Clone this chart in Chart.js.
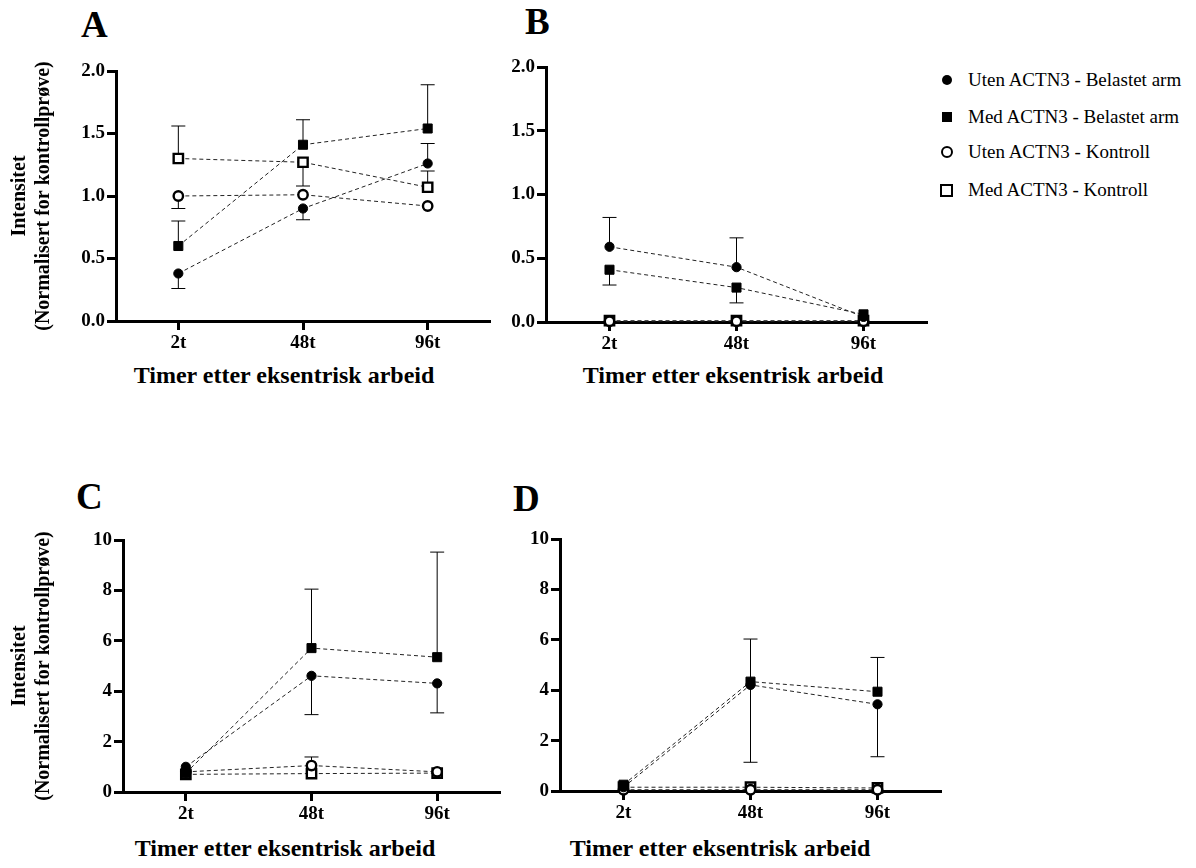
<!DOCTYPE html>
<html>
<head>
<meta charset="utf-8">
<script src="https://cdn.jsdelivr.net/npm/chart.js@4.4.0/dist/chart.umd.min.js"></script>
<style>
body{margin:0;background:#fff;width:1196px;height:868px;position:relative;overflow:hidden;font-family:"Liberation Serif","Times New Roman",serif;color:#000;}
canvas{position:absolute;}
.letter{position:absolute;font-weight:bold;font-size:37px;line-height:1;}
.xtitle{position:absolute;font-weight:bold;font-size:24px;line-height:1;white-space:nowrap;transform:translateX(-50%);}
.lg{position:absolute;font-size:19px;line-height:1;white-space:nowrap;}
.mk{position:absolute;box-sizing:border-box;background:#000;}
</style>
</head>
<body>
<div class="letter" style="left:81px;top:6px">A</div>
<div class="letter" style="left:525px;top:3px">B</div>
<div class="letter" style="left:76px;top:478px">C</div>
<div class="letter" style="left:513px;top:480px">D</div>

<div class="xtitle" style="left:284px;top:363px">Timer etter eksentrisk arbeid</div>
<div class="xtitle" style="left:733px;top:363px">Timer etter eksentrisk arbeid</div>
<div class="xtitle" style="left:285px;top:836px">Timer etter eksentrisk arbeid</div>
<div class="xtitle" style="left:720px;top:836px">Timer etter eksentrisk arbeid</div>

<div id="legend"></div>

<canvas id="chartA"></canvas>
<canvas id="chartB"></canvas>
<canvas id="chartC"></canvas>
<canvas id="chartD"></canvas>

<script>
// categories and series names
var timeLabels = ['2t', '48t', '96t'];
var seriesNames = ['Uten ACTN3 - Belastet arm', 'Med ACTN3 - Belastet arm', 'Uten ACTN3 - Kontroll', 'Med ACTN3 - Kontroll'];

// panel A (values, then signed error: + = bar up, - = bar down)
var aUtenBel = [0.38, 0.90, 1.26];
var aMedBel = [0.60, 1.41, 1.54];
var aUtenKon = [1.00, 1.01, 0.92];
var aMedKon = [1.30, 1.27, 1.07];
var aUtenBelErr = [-0.12, -0.09, 0.16];
var aMedBelErr = [0.20, 0.20, 0.35];
var aUtenKonErr = [-0.10, 0, 0];
var aMedKonErr = [0.26, -0.19, 0.13];

// panel B
var bUtenBel = [0.59, 0.43, 0.04];
var bMedBel = [0.41, 0.27, 0.06];
var bUtenKon = [0.005, 0.005, 0.005];
var bMedKon = [0.01, 0.01, 0.01];
var bUtenBelErr = [0.23, 0.23, 0];
var bMedBelErr = [-0.12, -0.12, 0];
var bUtenKonErr = [0, 0, 0];
var bMedKonErr = [0, 0, 0];

// panel C
var cUtenBel = [1.00, 4.61, 4.31];
var cMedBel = [0.75, 5.71, 5.35];
var cUtenKon = [0.80, 1.05, 0.80];
var cMedKon = [0.70, 0.73, 0.75];
var cUtenBelErr = [0, -1.54, -1.17];
var cMedBelErr = [0, 2.34, 4.17];
var cUtenKonErr = [0, 0.34, 0];
var cMedKonErr = [0, 0, 0];

// panel D
var dUtenBel = [0.15, 4.21, 3.44];
var dMedBel = [0.25, 4.34, 3.94];
var dUtenKon = [0.05, 0.05, 0.05];
var dMedKon = [0.15, 0.15, 0.12];
var dUtenBelErr = [0, -3.07, -2.08];
var dMedBelErr = [0, 1.69, 1.36];
var dUtenKonErr = [0, 0, 0];
var dMedKonErr = [0, 0, 0];

var serifFont = '"Liberation Serif", "Times New Roman", serif';

// one-sided error bars with caps, drawn under the markers
var errorBars = {
    id: 'errorBars',
    beforeDatasetsDraw: function(chart) {
        var ctx = chart.ctx;
        var yScale = chart.scales.y;
        ctx.save();
        ctx.strokeStyle = '#000';
        ctx.lineWidth = 1;
        chart.data.datasets.forEach(function(ds, i) {
            var meta = chart.getDatasetMeta(i);
            meta.data.forEach(function(pt, j) {
                var e = ds.errors[j];
                if (!e) return;
                var yEnd = yScale.getPixelForValue(ds.data[j] + e);
                ctx.beginPath();
                ctx.moveTo(pt.x, pt.y);
                ctx.lineTo(pt.x, yEnd);
                ctx.moveTo(pt.x - 7, yEnd);
                ctx.lineTo(pt.x + 7, yEnd);
                ctx.stroke();
            });
        });
        ctx.restore();
    }
};

function makeDatasets(series, errs) {
    return series.map(function(vals, i) {
        var isCircle = i % 2 === 0;
        var filled = i < 2;
        return {
            label: seriesNames[i],
            data: vals,
            errors: errs[i],
            borderColor: '#222',
            borderWidth: 1,
            borderDash: [4, 3],
            pointStyle: isCircle ? 'circle' : 'rect',
            pointRadius: isCircle ? (filled ? 4.6 : 4.7) : (filled ? 6.4 : 6.6),
            pointBackgroundColor: filled ? '#000' : '#fff',
            pointBorderColor: '#000',
            pointBorderWidth: filled ? 1 : 2.4,
            tension: 0,
            clip: false
        };
    });
}

// pos: canvas box and chart area in page coordinates
function makeChart(id, pos, yMax, yStep, digits, series, errs, yTitle) {
    var cv = document.getElementById(id);
    cv.style.left = pos.x + 'px';
    cv.style.top = pos.y + 'px';
    cv.width = pos.w;
    cv.height = pos.h;
    cv.style.width = pos.w + 'px';
    cv.style.height = pos.h + 'px';
    var yWidth = pos.left - pos.x;
    var xHeight = pos.y + pos.h - pos.bottom;

    return new Chart(cv.getContext('2d'), {
        type: 'line',
        data: {
            labels: timeLabels,
            datasets: makeDatasets(series, errs)
        },
        options: {
            responsive: false,
            animation: false,
            layout: {
                padding: { top: pos.top - pos.y, right: pos.x + pos.w - pos.right, left: 0, bottom: 0 }
            },
            plugins: {
                legend: { display: false },
                tooltip: { enabled: false }
            },
            scales: {
                x: {
                    type: 'category',
                    offset: true,
                    afterFit: function(scale) { scale.height = xHeight; },
                    border: { display: true, width: 3, color: '#000' },
                    grid: { offset: false, drawOnChartArea: false, tickLength: 9, tickWidth: 3, tickColor: '#000', color: '#000' },
                    ticks: { color: '#000', padding: 2, maxRotation: 0, font: { family: serifFont, size: 19, weight: 'bold' } }
                },
                y: {
                    min: 0,
                    max: yMax,
                    afterFit: function(scale) { scale.width = yWidth; },
                    border: { display: true, width: 3, color: '#000' },
                    grid: { drawOnChartArea: false, tickLength: 9, tickWidth: 3, tickColor: '#000', color: '#000' },
                    ticks: {
                        stepSize: yStep,
                        color: '#000',
                        padding: 2,
                        font: { family: serifFont, size: 19, weight: 'bold' },
                        callback: function(v) { return v.toFixed(digits); }
                    },
                    title: {
                        display: yTitle,
                        text: ['Intensitet', '(Normalisert for kontrollprøve)'],
                        color: '#000',
                        padding: { top: 8, bottom: 0 },
                        font: { family: serifFont, size: 20, weight: 'bold', lineHeight: 1.2 }
                    }
                }
            }
        },
        plugins: [errorBars]
    });
}

makeChart('chartA', { x: 0, y: 40, w: 500, h: 320, left: 116, top: 71, right: 490, bottom: 321 },
    2, 0.5, 1,
    [aUtenBel, aMedBel, aUtenKon, aMedKon],
    [aUtenBelErr, aMedBelErr, aUtenKonErr, aMedKonErr], true);

makeChart('chartB', { x: 470, y: 40, w: 470, h: 320, left: 546, top: 67, right: 927, bottom: 322 },
    2, 0.5, 1,
    [bUtenBel, bMedBel, bUtenKon, bMedKon],
    [bUtenBelErr, bMedBelErr, bUtenKonErr, bMedKonErr], false);

makeChart('chartC', { x: 0, y: 510, w: 510, h: 320, left: 123, top: 540, right: 500, bottom: 792 },
    10, 2, 0,
    [cUtenBel, cMedBel, cUtenKon, cMedKon],
    [cUtenBelErr, cMedBelErr, cUtenKonErr, cMedKonErr], true);

makeChart('chartD', { x: 470, y: 510, w: 480, h: 320, left: 560, top: 539, right: 941, bottom: 791 },
    10, 2, 0,
    [dUtenBel, dMedBel, dUtenKon, dMedKon],
    [dUtenBelErr, dMedBelErr, dUtenKonErr, dMedKonErr], false);

// legend
var legendRows = [80, 117, 152, 190];
var legendMarks = [
    'left:942px;width:10px;height:10px;border-radius:50%;',
    'left:942px;width:10px;height:10px;',
    'left:941px;width:12px;height:12px;border-radius:50%;background:#fff;border:2.5px solid #000;',
    'left:940px;width:13px;height:13px;background:#fff;border:2.5px solid #000;'
];
var lg = document.getElementById('legend');
seriesNames.forEach(function(name, i) {
    var cy = legendRows[i];
    var sz = i < 2 ? 10 : (i === 2 ? 12 : 13);
    var m = document.createElement('div');
    m.className = 'mk';
    m.style.cssText = legendMarks[i] + 'top:' + (cy - sz / 2) + 'px;';
    lg.appendChild(m);
    var t = document.createElement('div');
    t.className = 'lg';
    t.style.left = '968px';
    t.style.top = (cy - 10) + 'px';
    t.textContent = name;
    lg.appendChild(t);
});
</script>
</body>
</html>
